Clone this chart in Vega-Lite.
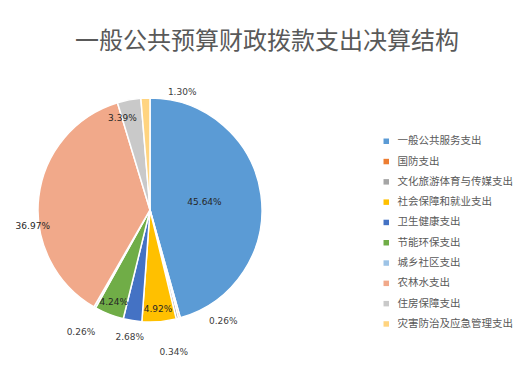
{
  "$schema": "https://vega.github.io/schema/vega-lite/v6.json",
  "autosize": "none",
  "width": 224,
  "height": 224,
  "padding": {"left": 38, "top": 98, "right": 261, "bottom": 48},
  "background": "white",
  "title": {
    "text": "一般公共预算财政拨款支出决算结构",
    "font": "Noto Sans CJK SC",
    "fontSize": 24,
    "fontWeight": "normal",
    "color": "#595959",
    "anchor": "middle",
    "dx": 117,
    "offset": 6
  },
  "data": {
    "values": [
      {"cat": "一般公共服务支出", "value": 45.64, "label": "45.64%", "order": 1},
      {"cat": "国防支出", "value": 0.26, "label": "0.26%", "order": 2},
      {"cat": "文化旅游体育与传媒支出", "value": 0.34, "label": "0.34%", "order": 3},
      {"cat": "社会保障和就业支出", "value": 4.92, "label": "4.92%", "order": 4},
      {"cat": "卫生健康支出", "value": 2.68, "label": "2.68%", "order": 5},
      {"cat": "节能环保支出", "value": 4.24, "label": "4.24%", "order": 6},
      {"cat": "城乡社区支出", "value": 0.26, "label": "0.26%", "order": 7},
      {"cat": "农林水支出", "value": 36.97, "label": "36.97%", "order": 8},
      {"cat": "住房保障支出", "value": 3.39, "label": "3.39%", "order": 9},
      {"cat": "灾害防治及应急管理支出", "value": 1.30, "label": "1.30%", "order": 10}
    ]
  },
  "encoding": {
    "theta": {"field": "value", "type": "quantitative", "stack": true},
    "order": {"field": "order", "type": "quantitative", "sort": "ascending"}
  },
  "layer": [
    {
      "mark": {"type": "arc", "outerRadius": 112, "stroke": "white", "strokeWidth": 1.5},
      "encoding": {
        "color": {
          "field": "cat",
          "type": "nominal",
          "scale": {
            "domain": ["一般公共服务支出", "国防支出", "文化旅游体育与传媒支出", "社会保障和就业支出", "卫生健康支出", "节能环保支出", "城乡社区支出", "农林水支出", "住房保障支出", "灾害防治及应急管理支出"],
            "range": ["#5B9BD5", "#ED7D31", "#A5A5A5", "#FFC000", "#4472C4", "#70AD47", "#9DC3E6", "#F1A98A", "#C9C9C9", "#FFD480"]
          },
          "sort": null,
          "legend": {
            "title": null,
            "orient": "none",
            "legendX": 343,
            "legendY": 38,
            "symbolType": "square",
            "symbolSize": 30,
            "symbolStrokeWidth": 0,
            "labelFont": "Noto Sans CJK SC",
            "labelFontSize": 10.5,
            "labelColor": "#595959",
            "rowPadding": 9.3,
            "labelOffset": 6
          }
        }
      }
    },
    {
      "mark": {"type": "text", "radius": 55, "font": "DejaVu Sans", "fontSize": 9, "color": "#262626", "align": "center", "baseline": "middle"},
      "encoding": {"text": {"condition": {"test": "datum.cat === '一般公共服务支出'", "field": "label"}, "value": ""}}
    },
    {
      "mark": {"type": "text", "radius": 99, "font": "DejaVu Sans", "fontSize": 9, "color": "#262626", "align": "center", "baseline": "middle"},
      "encoding": {"text": {"condition": {"test": "datum.cat === '社会保障和就业支出' || datum.cat === '节能环保支出'", "field": "label"}, "value": ""}}
    },
    {
      "mark": {"type": "text", "radius": 94, "dx": -10, "font": "DejaVu Sans", "fontSize": 9, "color": "#262626", "align": "center", "baseline": "middle"},
      "encoding": {"text": {"condition": {"test": "datum.cat === '住房保障支出'", "field": "label"}, "value": ""}}
    },
    {
      "mark": {"type": "text", "radius": 118, "dy": 30, "font": "DejaVu Sans", "fontSize": 9, "color": "#262626", "align": "center", "baseline": "middle"},
      "encoding": {"text": {"condition": {"test": "datum.cat === '农林水支出'", "field": "label"}, "value": ""}}
    },
    {
      "mark": {"type": "text", "radius": 118, "dx": 37, "font": "DejaVu Sans", "fontSize": 9, "color": "#404040", "align": "center", "baseline": "middle"},
      "encoding": {"text": {"condition": {"test": "datum.cat === '灾害防治及应急管理支出'", "field": "label"}, "value": ""}}
    },
    {
      "mark": {"type": "text", "radius": 115, "dx": 43, "font": "DejaVu Sans", "fontSize": 9, "color": "#404040", "align": "center", "baseline": "middle"},
      "encoding": {"text": {"condition": {"test": "datum.cat === '国防支出'", "field": "label"}, "value": ""}}
    },
    {
      "mark": {"type": "text", "radius": 146, "dx": -12, "font": "DejaVu Sans", "fontSize": 9, "color": "#404040", "align": "center", "baseline": "middle"},
      "encoding": {"text": {"condition": {"test": "datum.cat === '文化旅游体育与传媒支出'", "field": "label"}, "value": ""}}
    },
    {
      "mark": {"type": "text", "radius": 129, "font": "DejaVu Sans", "fontSize": 9, "color": "#404040", "align": "center", "baseline": "middle"},
      "encoding": {"text": {"condition": {"test": "datum.cat === '卫生健康支出'", "field": "label"}, "value": ""}}
    },
    {
      "mark": {"type": "text", "radius": 140, "font": "DejaVu Sans", "fontSize": 9, "color": "#404040", "align": "center", "baseline": "middle"},
      "encoding": {"text": {"condition": {"test": "datum.cat === '城乡社区支出'", "field": "label"}, "value": ""}}
    }
  ],
  "config": {"view": {"stroke": null}}
}
